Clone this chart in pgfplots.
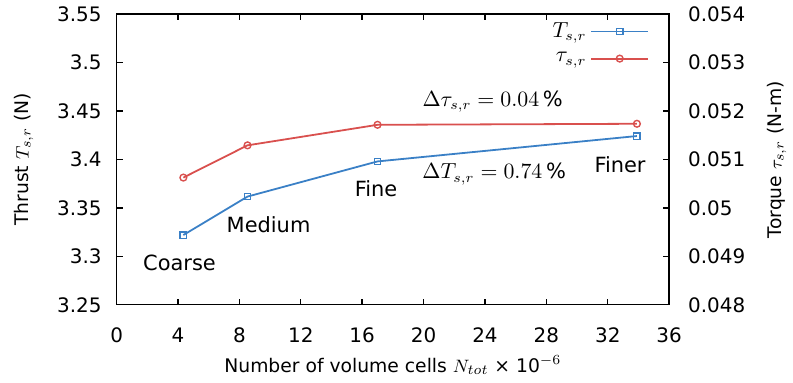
\documentclass[border=0pt]{standalone}
\usepackage{fontspec}
\setmainfont{DejaVu Sans}
\usepackage{pgfplots}
\pgfplotsset{compat=1.18}
\definecolor{tblue}{RGB}{58,128,198}
\definecolor{tred}{RGB}{217,80,78}
\begin{document}
\begin{tikzpicture}[font=\fontsize{10.5}{12.6}\selectfont]
\begin{axis}[
  name=ax,
  scale only axis, width=277.25pt, height=145.8pt,
  xmin=0, xmax=36, ymin=3.25, ymax=3.55,
  xtick={0,4,8,12,16,20,24,28,32,36},
  ytick={3.25,3.3,3.35,3.4,3.45,3.5,3.55},
  yticklabels={3.25,3.3,3.35,3.4,3.45,3.5,3.55},
  tick align=inside, ytick pos=left, xtick pos=both,
  major tick length=3pt,
  axis line style={line width=0.7pt},
  every tick/.style={black, line width=0.7pt},
  tick label style={font=\fontsize{10}{12}\selectfont},
  /pgf/number format/assume math mode=true,
  xticklabel style={yshift=-8pt},
  yticklabel style={xshift=-4pt},
  label style={font=\fontsize{9.4}{11}\selectfont},
  ylabel={Thrust $T_{s,r}$ (N)},
  ylabel style={at={(axis description cs:-0.168,0.5)}, anchor=center},
  xlabel={Number of volume cells $N_{tot}$ × 10$^{-6}$},
  xlabel style={at={(axis description cs:0.5,-0.208)}, anchor=center},
  legend plot pos=right,
  legend cell align=right,
  legend style={draw=none, fill=none, at={(0.975,1.0)}, anchor=north east,
    row sep=2pt, font=\fontsize{10.5}{12.6}\selectfont},
  legend image code/.code={\draw[mark repeat=2,mark phase=2] plot coordinates {(0cm,0cm) (0.5cm,0cm) (1cm,0cm)};},
]
\addplot[tblue, line width=0.9pt, mark=square, mark size=1.6pt, mark options={solid, line width=0.7pt}]
  coordinates {(4.35,3.322) (8.53,3.3617) (17.0,3.398) (33.9,3.4242)};
\addlegendentry{$T_{s,r}$}
\addlegendimage{tred, line width=0.9pt, mark=o, mark size=1.7pt, mark options={solid, line width=0.7pt}}
\addlegendentry{$\tau_{s,r}$}
\node at (axis cs:4.1,3.2935) {Coarse};
\node at (axis cs:9.9,3.3326) {Medium};
\node at (axis cs:16.9,3.3697) {Fine};
\node at (axis cs:32.8,3.395) {Finer};
\node at (axis cs:24.5,3.460) {$\Delta\tau_{s,r} = 0.04\,\%$};
\node at (axis cs:24.6,3.385) {$\Delta T_{s,r} = 0.74\,\%$};
\end{axis}
\begin{axis}[
  scale only axis, width=277.25pt, height=145.8pt,
  xmin=0, xmax=36, ymin=0.048, ymax=0.054,
  axis x line=none, axis y line*=right,
  scaled y ticks=false,
  ytick={0.048,0.049,0.05,0.051,0.052,0.053,0.054},
  yticklabels={0.048,0.049,0.05,0.051,0.052,0.053,0.054},
  tick align=inside, major tick length=3pt,
  axis line style={line width=0.7pt},
  every tick/.style={black, line width=0.7pt},
  tick label style={font=\fontsize{10}{12}\selectfont},
  yticklabel style={xshift=6pt},
  label style={font=\fontsize{9.4}{11}\selectfont},
  ylabel={Torque $\tau_{s,r}$ (N-m)},
  ylabel style={at={(axis description cs:1.195,0.5)}, anchor=center},
]
\addplot[tred, line width=0.9pt, mark=o, mark size=1.7pt, mark options={solid, line width=0.7pt}]
  coordinates {(4.35,0.050626) (8.53,0.051292) (17.0,0.051716) (33.9,0.051737)};
\end{axis}
\path ([xshift=-58.5pt,yshift=-38.85pt]ax.south west) rectangle ([xshift=60.75pt,yshift=6.35pt]ax.north east);
\end{tikzpicture}
\end{document}
